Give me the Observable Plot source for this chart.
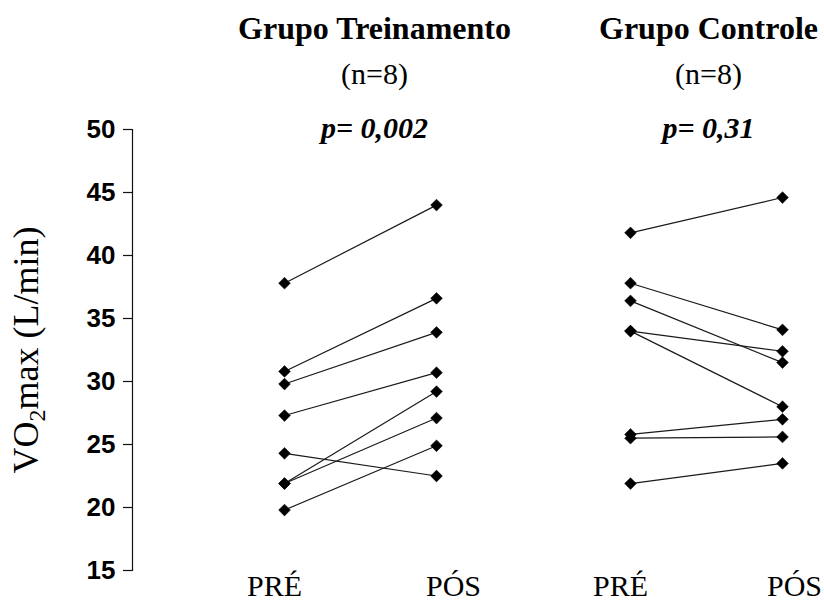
<!DOCTYPE html>
<html>
<head>
<meta charset="utf-8">
<script src="https://cdn.jsdelivr.net/npm/d3@7"></script>
<script src="https://cdn.jsdelivr.net/npm/@observablehq/plot@0.6"></script>
<style>
  html, body { margin: 0; padding: 0; background: white; }
  #chart { width: 824px; height: 603px; }
</style>
</head>
<body>
<div id="chart"></div>
<script>
// ---- data ----
const groups = ["Grupo Treinamento", "Grupo Controle"];
const sampleSizes = ["(n=8)", "(n=8)"];
const pValues = ["p= 0,002", "p= 0,31"];
const times = ["PRÉ", "PÓS"];
const treinoPre = [37.8, 30.8, 29.8, 27.3, 24.3, 21.9, 21.9, 19.8];
const treinoPos = [44.0, 36.6, 33.9, 30.7, 22.5, 29.2, 27.1, 24.9];
const controlePre = [41.8, 37.8, 36.4, 34.0, 34.0, 25.8, 25.5, 21.9];
const controlePos = [44.6, 34.1, 31.5, 32.4, 28.0, 27.0, 25.6, 23.5];
const yTicks = [15, 20, 25, 30, 35, 40, 45, 50];
const yLabel = "VO2max (L/min)";

// ---- build table ----
const series = [[treinoPre, treinoPos], [controlePre, controlePos]];
const rows = [];
groups.forEach((g, gi) => {
  const [pre, pos] = series[gi];
  pre.forEach((v, i) => {
    rows.push({group: g, id: gi * 100 + i, time: times[0], value: v});
    rows.push({group: g, id: gi * 100 + i, time: times[1], value: pos[i]});
  });
});
const headerShift = [80, 68];
const headers = groups.map((g, i) => ({group: g, n: sampleSizes[i], p: pValues[i], shift: headerShift[i]}));
const catLabels = groups.flatMap((g, gi) => times.map((t, ti) => ({group: g, time: t, shift: [[-10, 17], [-10, 12]][gi][ti]})));

const serif = "'Liberation Serif', 'Times New Roman', serif";
const sans = "'Liberation Sans', Arial, sans-serif";

const headerMarks = headers.flatMap(h => [
  Plot.text([h], {fx: "group", frameAnchor: "top", text: "group", dx: h.shift, dy: -91, lineAnchor: "bottom",
    fontSize: 32, fontWeight: "bold", fontFamily: serif, fill: "black"}),
  Plot.text([h], {fx: "group", frameAnchor: "top", text: "n", dx: h.shift, dy: -46, lineAnchor: "bottom",
    fontSize: 30, fontFamily: serif, fill: "black"}),
  Plot.text([h], {fx: "group", frameAnchor: "top", text: "p", dx: h.shift, dy: 8, lineAnchor: "bottom",
    fontSize: 30, fontWeight: "bold", fontStyle: "italic", fontFamily: serif, fill: "black"})
]);

const chart = Plot.plot({
  width: 824,
  height: 603,
  marginTop: 129,
  marginBottom: 33,
  marginLeft: 132,
  marginRight: 22,
  style: {background: "white", overflow: "visible"},
  fx: {domain: groups, paddingInner: 0.0636, paddingOuter: 0, axis: null},
  x: {type: "point", domain: times, padding: 0, insetLeft: 152, insetRight: 20, axis: null},
  y: {domain: [15, 50], axis: null},
  marks: [
    Plot.frame({anchor: "left", facetAnchor: "left", stroke: "#111", strokeWidth: 1.2}),
    Plot.axisY({ticks: yTicks, tickSize: 9, tickPadding: 8, fontSize: 26, fontWeight: "bold",
      fontFamily: sans, label: null, stroke: "#111", strokeWidth: 1.2, color: "black"}),
    Plot.axisY({ticks: [], tickSize: 0, label: yLabel, labelAnchor: "center", labelArrow: "none",
      labelOffset: 120, fontSize: 36, fontFamily: serif, fontWeight: "normal"}),
    Plot.line(rows, {fx: "group", x: "time", y: "value", z: "id", stroke: "#1a1a1a", strokeWidth: 1.2}),
    Plot.dot(rows, {fx: "group", x: "time", y: "value", symbol: "diamond2", r: 5.3, fill: "black", stroke: "black", strokeWidth: 0.5}),
    ...headerMarks,
    ...catLabels.map(d => Plot.text([d], {fx: "group", x: "time", frameAnchor: "bottom", text: "time",
      dx: d.shift, dy: 25, lineAnchor: "bottom", fontSize: 30, fontFamily: serif, fill: "black"}))
  ]
});

// subscript "2" in the y label
const lab = chart.querySelector('[aria-label="y-axis label"] text');
if (lab) {
  const ns = "http://www.w3.org/2000/svg";
  lab.textContent = "";
  const a = document.createElementNS(ns, "tspan"); a.textContent = "VO";
  const b = document.createElementNS(ns, "tspan"); b.textContent = "2";
  b.setAttribute("font-size", "24"); b.setAttribute("dy", "0.3em");
  const c = document.createElementNS(ns, "tspan"); c.textContent = "max (L/min)";
  c.setAttribute("dy", "-0.2em");
  lab.append(a, b, c);
}
document.getElementById("chart").append(chart);
</script>
</body>
</html>
